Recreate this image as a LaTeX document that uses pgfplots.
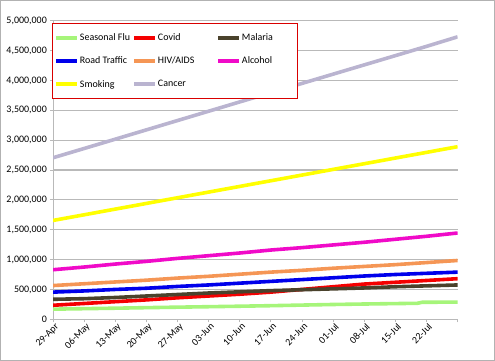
\documentclass[border=0pt]{standalone}
\usepackage{pgfplots}
\pgfplotsset{compat=1.18}
\usepackage{pgfplotstable}
\usepackage{fontspec}
\setmainfont{Carlito}
\definecolor{cflu}{RGB}{166,245,122}
\definecolor{ccovid}{RGB}{245,0,0}
\definecolor{cmal}{RGB}{74,66,44}
\definecolor{croad}{RGB}{0,0,235}
\definecolor{chiv}{RGB}{245,150,85}
\definecolor{calc}{RGB}{240,10,200}
\definecolor{csmk}{RGB}{255,255,0}
\definecolor{ccan}{RGB}{186,180,208}
\definecolor{cgrid}{RGB}{185,185,185}

\pgfplotstableread{
day cancer smoking alcohol hiv road malaria covid
0  2705000 1655000 830000  565000 455000 335000 235000
7  2860000 1750000 875000  595000 475000 345000 265000
14 3016000 1845000 925000  625000 500000 365000 295000
21 3172000 1940000 970000  655000 520000 390000 325000
28 3328000 2035000 1020000 690000 550000 415000 360000
35 3484000 2130000 1065000 720000 575000 440000 390000
42 3640000 2225000 1110000 755000 605000 460000 420000
49 3795000 2320000 1160000 790000 635000 480000 455000
56 3950000 2415000 1200000 820000 665000 495000 500000
63 4105000 2510000 1245000 855000 695000 510000 545000
70 4260000 2605000 1290000 885000 725000 525000 590000
77 4415000 2700000 1340000 915000 750000 545000 620000
84 4570000 2795000 1390000 950000 770000 560000 650000
91 4730000 2890000 1445000 985000 790000 575000 680000
}\maindata

\pgfplotstableread{
day flu
0  170000
7  178000
14 186000
21 195000
28 203000
35 211000
42 219000
49 228000
56 238000
63 248000
70 256000
77 263000
82 268000
83 285000
91 288000
}\fludata

\begin{document}
\begin{tikzpicture}
\useasboundingbox (0,0) rectangle (495bp,361bp);
\draw[color=black!30, line width=1.2bp] (0.6bp,0.6bp) rectangle (494.4bp,360.4bp);
\begin{axis}[
  at={(53bp,41.7bp)}, anchor=south west,
  scale only axis, width=404.6bp, height=298.6bp,
  xmin=0, xmax=91, ymin=0, ymax=5000000,
  axis x line*=bottom, axis y line*=left,
  axis line style={draw=cgrid, line width=1bp, -},
  xtick={0,7,...,91},
  xticklabels={29-Apr,06-May,13-May,20-May,27-May,03-Jun,10-Jun,17-Jun,24-Jun,01-Jul,08-Jul,15-Jul,22-Jul,},
  ytick={0,500000,...,5000000},
  scaled y ticks=false,
  /pgf/number format/fixed,
  /pgf/number format/1000 sep={,},
  /pgf/number format/assume math mode=true,
  tick align=outside, major tick length=3bp,
  tick style={draw=cgrid, line width=0.8bp},
  ymajorgrids, grid style={draw=cgrid, line width=1.2bp},
  tick label style={font=\fontsize{10}{12}\selectfont, text=black},
  xticklabel style={rotate=45, anchor=north east, inner sep=1bp, xshift=2bp},
  yticklabel style={inner sep=3bp},
  legend columns=3,
  legend cell align=left,
  legend style={at={(axis description cs:-0.002,1)}, anchor=north west, yshift=-2.5bp,
    draw=red!85!black, line width=0.6bp, fill=white,
    font=\fontsize{10}{12}\selectfont,
    inner xsep=2bp, inner ysep=8bp, row sep=11bp,
    nodes={inner xsep=0.5bp},
    /tikz/every even column/.append style={column sep=0bp}},
  legend image code/.code={\draw[#1, line width=4bp] (0bp,0bp) -- (21bp,0bp);},
  every axis plot/.append style={line width=3.6bp, line join=round},
]
\addplot[cflu, no marks] table[x=day, y=flu] {\fludata};
\addlegendentry{\makebox[52bp][l]{Seasonal Flu}}
\addplot[ccovid, no marks] table[x=day, y=covid] {\maindata};
\addlegendentry{\makebox[58bp][l]{Covid}}
\addplot[cmal, no marks] table[x=day, y=malaria] {\maindata};
\addlegendentry{\makebox[53bp][l]{Malaria}}
\addplot[croad, no marks] table[x=day, y=road] {\maindata};
\addlegendentry{Road Traffic}
\addplot[chiv, no marks] table[x=day, y=hiv] {\maindata};
\addlegendentry{HIV/AIDS}
\addplot[calc, no marks] table[x=day, y=alcohol] {\maindata};
\addlegendentry{Alcohol}
\addplot[csmk, no marks] table[x=day, y=smoking] {\maindata};
\addlegendentry{Smoking}
\addplot[ccan, no marks] table[x=day, y=cancer] {\maindata};
\addlegendentry{Cancer}
\end{axis}
\end{tikzpicture}
\end{document}
